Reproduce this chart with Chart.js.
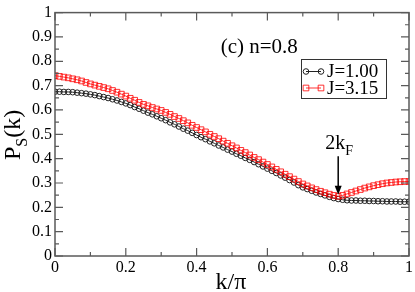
<!DOCTYPE html>
<html>
<head>
<meta charset="utf-8">
<script src="https://cdn.jsdelivr.net/npm/chart.js@4/dist/chart.umd.min.js"></script>
<style>
html, body { margin: 0; padding: 0; background: #fff; }
</style>
</head>
<body>
<canvas id="myChart" width="415" height="292"></canvas>
<script>
// k/pi grid
var kValues = [
    0, 0.0125, 0.025, 0.0375, 0.05, 0.0625, 0.075, 0.0875, 0.1, 0.1125,
    0.125, 0.1375, 0.15, 0.1625, 0.175, 0.1875, 0.2, 0.2125, 0.225, 0.2375,
    0.25, 0.2625, 0.275, 0.2875, 0.3, 0.3125, 0.325, 0.3375, 0.35, 0.3625,
    0.375, 0.3875, 0.4, 0.4125, 0.425, 0.4375, 0.45, 0.4625, 0.475, 0.4875,
    0.5, 0.5125, 0.525, 0.5375, 0.55, 0.5625, 0.575, 0.5875, 0.6, 0.6125,
    0.625, 0.6375, 0.65, 0.6625, 0.675, 0.6875, 0.7, 0.7125, 0.725, 0.7375,
    0.75, 0.7625, 0.775, 0.7875, 0.8, 0.8125, 0.825, 0.8375, 0.85, 0.8625,
    0.875, 0.8875, 0.9, 0.9125, 0.925, 0.9375, 0.95, 0.9625, 0.975, 0.9875, 1
];
// P_S(k) for J=1.00
var psJ100 = [
    0.675, 0.675, 0.674, 0.674, 0.673, 0.671, 0.669, 0.667, 0.664, 0.661,
    0.657, 0.653, 0.649, 0.644, 0.639, 0.633, 0.627, 0.620, 0.612, 0.605,
    0.597, 0.589, 0.582, 0.574, 0.566, 0.558, 0.549, 0.541, 0.532, 0.523,
    0.515, 0.506, 0.497, 0.488, 0.480, 0.471, 0.463, 0.454, 0.446, 0.437,
    0.429, 0.420, 0.412, 0.403, 0.395, 0.386, 0.377, 0.368, 0.359, 0.350,
    0.341, 0.331, 0.322, 0.312, 0.302, 0.291, 0.282, 0.275, 0.268, 0.261,
    0.255, 0.249, 0.243, 0.238, 0.234, 0.231, 0.229, 0.228, 0.228, 0.227,
    0.227, 0.226, 0.226, 0.225, 0.225, 0.224, 0.224, 0.224, 0.223, 0.223, 0.223
];
// P_S(k) for J=3.15
var psJ315 = [
    0.741, 0.738, 0.735, 0.732, 0.728, 0.724, 0.719, 0.713, 0.707, 0.702,
    0.697, 0.692, 0.687, 0.680, 0.673, 0.665, 0.657, 0.648, 0.640, 0.631,
    0.623, 0.617, 0.610, 0.604, 0.598, 0.590, 0.582, 0.573, 0.565, 0.556,
    0.547, 0.537, 0.528, 0.519, 0.510, 0.500, 0.491, 0.482, 0.472, 0.463,
    0.453, 0.444, 0.434, 0.425, 0.415, 0.405, 0.396, 0.386, 0.376, 0.366,
    0.356, 0.346, 0.336, 0.326, 0.316, 0.306, 0.296, 0.288, 0.280, 0.273,
    0.266, 0.260, 0.254, 0.249, 0.245, 0.249, 0.255, 0.261, 0.267, 0.273,
    0.279, 0.284, 0.289, 0.293, 0.297, 0.300, 0.302, 0.304, 0.305, 0.306, 0.306
];
var seriesLabels = ['J=1.00', 'J=3.15'];
var panelLabel = '(c) n=0.8';
var kF2 = 0.8;

var serif = '"Liberation Serif", "Times New Roman", serif';
var axisColor = '#5a5a5a';

function toPoints(ys)
{
    return kValues.map(function(k, i) { return {x: k, y: ys[i]}; });
}

function fmt(v)
{
    var s = (Math.round(v * 10) / 10).toString();
    return s;
}

var decorPlugin = {
    id: 'decor',
    afterDatasetsDraw: function(chart) {
        var ctx = chart.ctx;
        var a = chart.chartArea;
        var xs = chart.scales.x;
        var ys = chart.scales.y;
        ctx.save();
        // frame
        ctx.strokeStyle = axisColor;
        ctx.lineWidth = 1.5;
        ctx.strokeRect(a.left, a.top, a.right - a.left, a.bottom - a.top);
        // ticks, inward on all four sides
        ctx.lineWidth = 1.2;
        ctx.beginPath();
        var xt = xs.ticks.map(function(t) { return t.value; });
        for (var i = 0; i < xt.length; i++) {
            var px = xs.getPixelForValue(xt[i]);
            ctx.moveTo(px, a.bottom); ctx.lineTo(px, a.bottom - 8);
            ctx.moveTo(px, a.top); ctx.lineTo(px, a.top + 8);
            if (i < xt.length - 1) {
                var pm = xs.getPixelForValue((xt[i] + xt[i + 1]) / 2);
                ctx.moveTo(pm, a.bottom); ctx.lineTo(pm, a.bottom - 4);
                ctx.moveTo(pm, a.top); ctx.lineTo(pm, a.top + 4);
            }
        }
        var yt = ys.ticks.map(function(t) { return t.value; });
        for (var j = 0; j < yt.length; j++) {
            var py = ys.getPixelForValue(yt[j]);
            ctx.moveTo(a.left, py); ctx.lineTo(a.left + 8, py);
            ctx.moveTo(a.right, py); ctx.lineTo(a.right - 8, py);
            if (j < yt.length - 1) {
                var qm = ys.getPixelForValue((yt[j] + yt[j + 1]) / 2);
                ctx.moveTo(a.left, qm); ctx.lineTo(a.left + 4, qm);
                ctx.moveTo(a.right, qm); ctx.lineTo(a.right - 4, qm);
            }
        }
        ctx.stroke();

        // panel label
        ctx.fillStyle = '#000';
        ctx.font = '21px ' + serif;
        ctx.textAlign = 'left';
        ctx.textBaseline = 'middle';
        ctx.fillText(panelLabel, xs.getPixelForValue(0.468), ys.getPixelForValue(0.857));

        // legend
        var lx = 301, ly = 59, lw = 85, lh = 39;
        ctx.fillStyle = '#fff';
        ctx.fillRect(lx, ly, lw, lh);
        ctx.strokeStyle = '#333';
        ctx.lineWidth = 1;
        ctx.strokeRect(lx + 0.5, ly + 0.5, lw, lh);
        var order = [0, 1];
        for (var n = 0; n < order.length; n++) {
            var ds = chart.data.datasets[order[n]];
            var cy = ly + 12.5 + n * 16.5;
            ctx.strokeStyle = ds.borderColor;
            ctx.lineWidth = 1;
            ctx.beginPath();
            ctx.moveTo(306, cy); ctx.lineTo(321, cy);
            ctx.stroke();
            var st = {pointStyle: ds.pointStyle, radius: ds.pointRadius, borderWidth: 1};
            ctx.fillStyle = 'rgba(0,0,0,0)';
            Chart.helpers.drawPoint(ctx, st, 306, cy);
            Chart.helpers.drawPoint(ctx, st, 321, cy);
            ctx.fillStyle = '#000';
            ctx.font = '19px ' + serif;
            ctx.textBaseline = 'middle';
            ctx.fillText(ds.label, 327, cy + 1);
        }

        // 2kF arrow
        var ax = xs.getPixelForValue(kF2);
        var y0 = ys.getPixelForValue(0.41);
        var y1 = ys.getPixelForValue(0.252);
        ctx.strokeStyle = '#000';
        ctx.fillStyle = '#000';
        ctx.lineWidth = 1.5;
        ctx.beginPath();
        ctx.moveTo(ax, y0); ctx.lineTo(ax, y1 - 6);
        ctx.stroke();
        ctx.beginPath();
        ctx.moveTo(ax, y1); ctx.lineTo(ax - 3.5, y1 - 9); ctx.lineTo(ax + 3.5, y1 - 9);
        ctx.closePath();
        ctx.fill();
        ctx.font = '20px ' + serif;
        ctx.textAlign = 'left';
        ctx.textBaseline = 'alphabetic';
        var ty = ys.getPixelForValue(0.44);
        ctx.fillText('2k', ax - 13, ty);
        var w2k = ctx.measureText('2k').width;
        ctx.font = '14px ' + serif;
        ctx.fillText('F', ax - 13 + w2k, ty + 6);

        // x title
        ctx.font = '24px ' + serif;
        ctx.textAlign = 'center';
        ctx.textBaseline = 'alphabetic';
        ctx.fillText('k/\u03c0', 231, 289);

        // y title with subscript
        ctx.translate(20, 160);
        ctx.rotate(-Math.PI / 2);
        ctx.textAlign = 'left';
        ctx.font = '24px ' + serif;
        ctx.fillText('P', 0, 0);
        var wp = ctx.measureText('P').width;
        ctx.font = '16px ' + serif;
        ctx.fillText('S', wp, 7);
        var ws = ctx.measureText('S').width;
        ctx.font = '24px ' + serif;
        ctx.fillText('(k)', wp + ws, 0);
        ctx.restore();
    }
};

var ctx = document.getElementById('myChart');
var myChart = new Chart(ctx, {
    type: 'line',
    data: {
        datasets: [{
            label: seriesLabels[0],
            data: toPoints(psJ100),
            borderColor: '#222',
            backgroundColor: 'transparent',
            borderWidth: 1,
            pointStyle: 'circle',
            pointRadius: 2.8,
            pointBorderWidth: 1,
            pointBackgroundColor: 'transparent',
            order: 1
        }, {
            label: seriesLabels[1],
            data: toPoints(psJ315),
            borderColor: 'rgba(255,0,0,0.8)',
            backgroundColor: 'transparent',
            borderWidth: 1,
            pointStyle: 'rect',
            pointRadius: 4,
            pointBorderWidth: 1,
            pointBackgroundColor: 'transparent',
            order: 0
        }]
    },
    options: {
        responsive: false,
        animation: false,
        devicePixelRatio: 1,
        layout: { padding: { top: 5, right: 4, left: 0, bottom: 0 } },
        plugins: { legend: { display: false }, tooltip: { enabled: false } },
        scales: {
            x: {
                type: 'linear',
                min: 0, max: 1,
                grid: { display: false, drawTicks: false },
                border: { display: false },
                ticks: {
                    stepSize: 0.2,
                    padding: 2,
                    color: '#000',
                    maxRotation: 0,
                    font: { family: serif, size: 16 },
                    callback: function(v) { return fmt(v); }
                },
                afterFit: function(s) { s.height = 36; }
            },
            y: {
                min: 0, max: 1,
                grid: { display: false, drawTicks: false },
                border: { display: false },
                ticks: {
                    stepSize: 0.1,
                    padding: 3,
                    color: '#000',
                    font: { family: serif, size: 16 },
                    callback: function(v) { return fmt(v); }
                },
                afterFit: function(s) { s.width = 55; }
            }
        }
    },
    plugins: [decorPlugin]
});
</script>
</body>
</html>
